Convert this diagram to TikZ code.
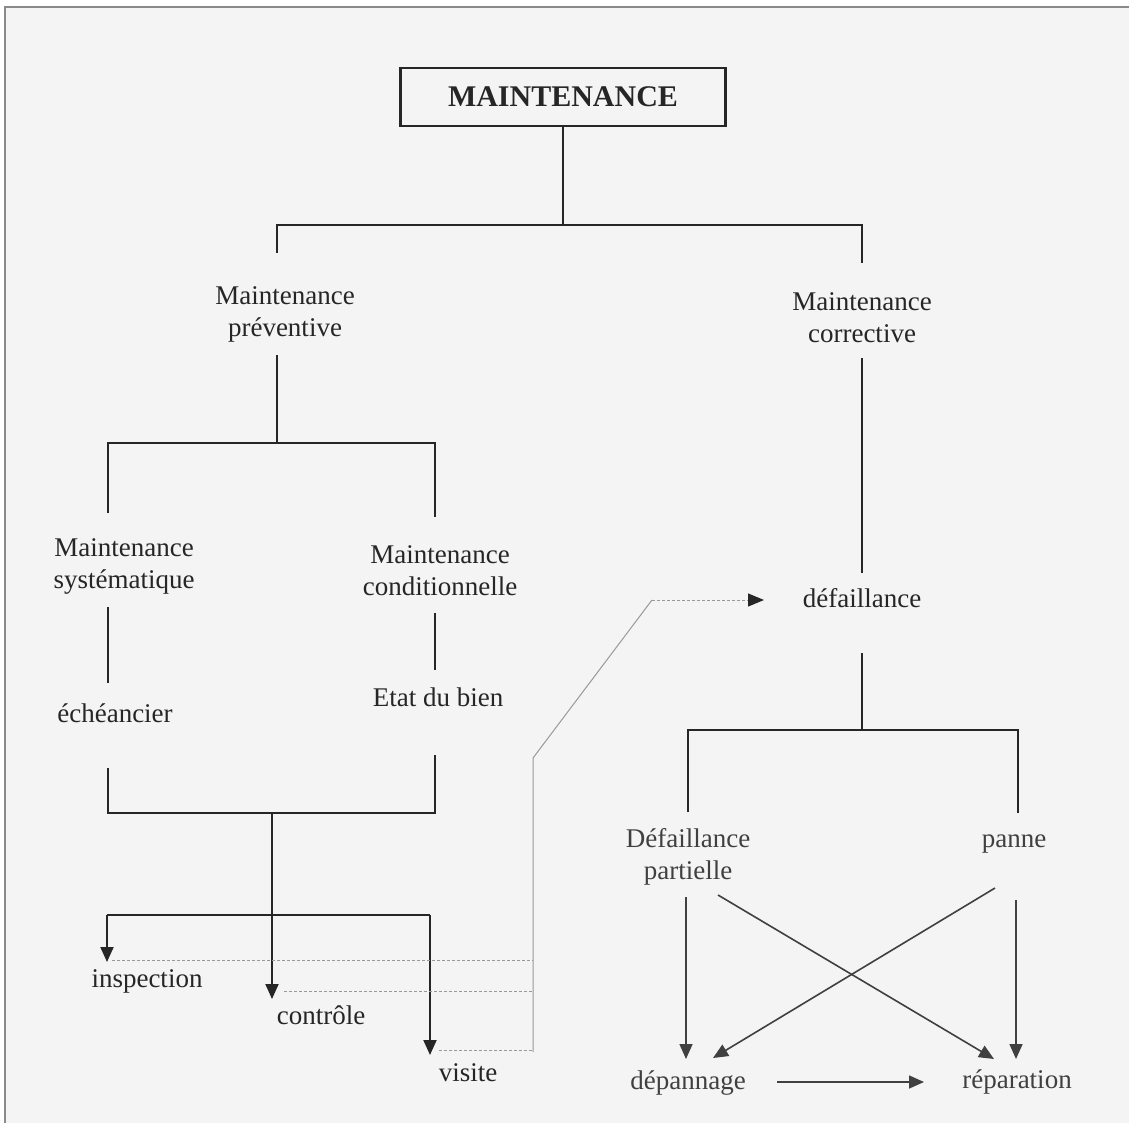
\documentclass[tikz,border=0pt]{standalone}
\usepackage{fontspec}
\setmainfont{Liberation Serif}
\usetikzlibrary{arrows.meta}
\definecolor{ink}{HTML}{262626}
\definecolor{inklight}{HTML}{404040}
\definecolor{faint}{HTML}{999999}
\definecolor{paper}{HTML}{F4F4F4}
\definecolor{framec}{HTML}{8A8A8A}
\tikzset{
  lbl/.style={font=\fontsize{27}{32}\selectfont, text=ink, align=center, inner sep=0pt},
  lbllight/.style={lbl, text=inklight},
  conn/.style={draw=ink, line width=2pt},
  connlight/.style={draw=inklight, line width=1.6pt},
  arr/.style={conn, -{Triangle[length=15pt,width=13pt]}},
  arrlight/.style={connlight, -{Triangle[length=15pt,width=13pt]}},
  faintline/.style={draw=faint, line width=1pt},
  faintdash/.style={faintline, dash pattern=on 3pt off 2pt},
}
\begin{document}
\begin{tikzpicture}[x=1pt,y=-1pt]
\useasboundingbox (0,0) rectangle (1129,1123);
\fill[white] (0,0) rectangle (1129,1123);
\fill[paper] (5,7) rectangle (1129,1123);
\draw[framec, line width=2.5pt] (5,1123) -- (5,7) -- (1129,7);

% ---- nodes
\node[draw=ink, line width=2.2pt, minimum width=325pt, minimum height=58pt, inner sep=0pt,
      font=\bfseries\fontsize{30}{36}\selectfont, text=ink] (M) at (563,97) {MAINTENANCE};
\node[lbl] (prev) at (285,314) {Maintenance\\préventive};
\node[lbl] (corr) at (862,318) {Maintenance\\corrective};
\node[lbl] (syst) at (124,566) {Maintenance\\systématique};
\node[lbl] (cond) at (440,571) {Maintenance\\conditionnelle};
\node[lbl] (ech) at (115,713) {échéancier};
\node[lbl] (etat) at (438,697) {Etat du bien};
\node[lbl] (insp) at (147,981) {inspection};
\node[lbl] (ctrl) at (321,1015) {contrôle};
\node[lbl] (vis) at (468,1073) {visite};
\node[lbl] (def) at (862,598) {défaillance};
\node[lbllight] (dpart) at (688,857) {Défaillance\\partielle};
\node[lbllight] (panne) at (1014,844) {panne};
\node[lbllight] (depan) at (688,1083) {dépannage};
\node[lbllight] (repar) at (1017,1082) {réparation};

% ---- coordinates
\coordinate (t0) at (563,225);
\coordinate (tl) at (277,225);
\coordinate (tr) at (862,225);
\coordinate (tlb) at (277,253);
\coordinate (trb) at (862,263);
\coordinate (p0) at (277,355);
\coordinate (p1) at (277,443);
\coordinate (pl) at (108,443);
\coordinate (pr) at (435,443);
\coordinate (plb) at (108,513);
\coordinate (prb) at (435,517);
\coordinate (s1) at (108,607);
\coordinate (s2) at (108,683);
\coordinate (c1) at (435,613);
\coordinate (c2) at (435,670);
\coordinate (e1) at (108,768);
\coordinate (eb) at (108,813);
\coordinate (ebm) at (272,813);
\coordinate (ebr) at (435,813);
\coordinate (b1) at (435,755);
\coordinate (hl) at (107,915);
\coordinate (hr) at (430,915);
\coordinate (tipi) at (107,962);
\coordinate (tipc) at (272,999);
\coordinate (tipv) at (430,1055);
% faint lines
\coordinate (f0) at (533,1052);
\coordinate (f1) at (533,758);
\coordinate (f2) at (652,600);
\coordinate (f3) at (764,600);
\coordinate (g1a) at (112,960);
\coordinate (g1b) at (533,960);
\coordinate (g2a) at (284,991);
\coordinate (g2b) at (533,991);
\coordinate (g3a) at (439,1050);
\coordinate (g3b) at (533,1050);
% corrective branch
\coordinate (r1) at (862,358);
\coordinate (r2) at (862,573);
\coordinate (r3) at (862,653);
\coordinate (r4) at (862,730);
\coordinate (rl) at (688,730);
\coordinate (rr) at (1018,730);
\coordinate (rlb) at (688,812);
\coordinate (rrb) at (1018,813);
\coordinate (a1s) at (686,897);
\coordinate (a1e) at (686,1059);
\coordinate (a2s) at (1016,900);
\coordinate (a2e) at (1016,1059);
\coordinate (a3s) at (718,895);
\coordinate (a3e) at (994,1059);
\coordinate (a4s) at (995,888);
\coordinate (a4e) at (713,1058);
\coordinate (a5s) at (777,1082);
\coordinate (a5e) at (924,1082);

% ---- connectors
\draw[conn] (M.south) -- (t0);
\draw[conn] (tlb) -- (tl) -- (tr) -- (trb);
\draw[conn] (p0) -- (p1);
\draw[conn] (plb) -- (pl) -- (pr) -- (prb);
\draw[conn] (s1) -- (s2);
\draw[conn] (c1) -- (c2);
\draw[conn] (e1) -- (eb) -- (ebr) -- (b1);
\draw[arr] (ebm) -- (tipc);
\draw[conn] (hl) -- (hr);
\draw[arr] (hl) -- (tipi);
\draw[arr] (hr) -- (tipv);

\draw[faintline] (f0) -- (f1) -- (f2);
\draw[faintdash, -{Triangle[length=16pt,width=13pt,color=ink,fill=ink]}] (f2) -- (f3);
\draw[faintdash] (g1a) -- (g1b);
\draw[faintdash] (g2a) -- (g2b);
\draw[faintdash] (g3a) -- (g3b);

\draw[conn] (r1) -- (r2);
\draw[conn] (r3) -- (r4);
\draw[conn] (rlb) -- (rl) -- (rr) -- (rrb);
\draw[arrlight] (a1s) -- (a1e);
\draw[arrlight] (a2s) -- (a2e);
\draw[arrlight] (a3s) -- (a3e);
\draw[arrlight] (a4s) -- (a4e);
\draw[arrlight] (a5s) -- (a5e);
\end{tikzpicture}
\end{document}
